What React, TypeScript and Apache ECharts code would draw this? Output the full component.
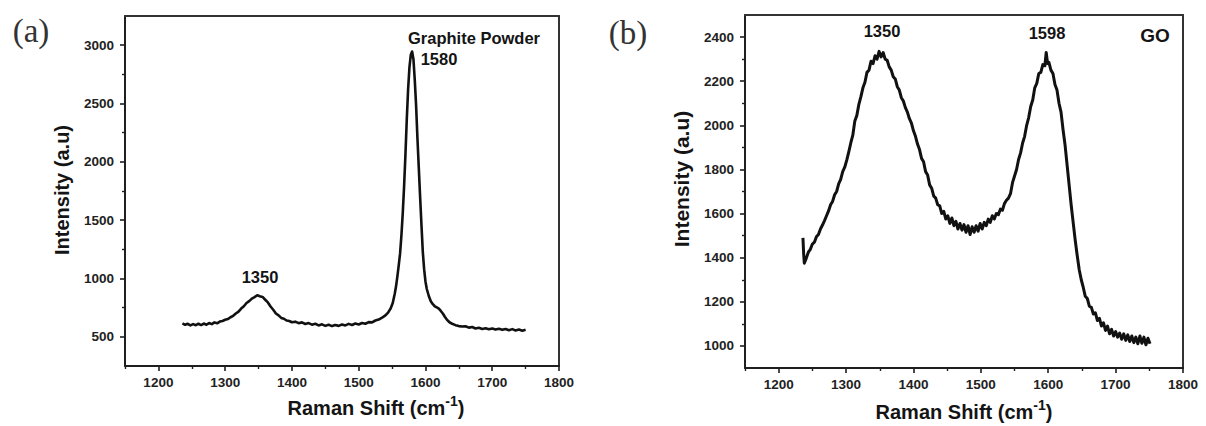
import React, { useEffect, useRef } from "react";
import * as echarts from "echarts";

// ---------- data ----------
// (a) Graphite powder Raman spectrum: [Raman shift (cm-1), intensity (a.u.)]
const graphiteSpectrum: [number, number][] = [
  [1236, 615], [1240, 603], [1244, 612], [1248, 598], [1252, 609], [1256, 600], [1260, 612], [1264, 601],
  [1268, 614], [1272, 604], [1276, 618], [1280, 609], [1284, 624], [1288, 616], [1292, 631], [1296, 636],
  [1300, 646], [1304, 652], [1308, 668], [1312, 680], [1316, 700], [1320, 716], [1324, 742], [1328, 762],
  [1332, 790], [1336, 806], [1340, 828], [1344, 840], [1348, 856], [1352, 848], [1356, 842], [1360, 818],
  [1364, 795], [1368, 760], [1372, 732], [1376, 700], [1380, 684], [1384, 662], [1388, 655], [1392, 640],
  [1396, 636], [1400, 625], [1405, 630], [1410, 617], [1415, 624], [1420, 610], [1425, 618], [1430, 604],
  [1435, 612], [1440, 598], [1445, 607], [1450, 594], [1455, 603], [1460, 592], [1465, 601], [1470, 594],
  [1475, 606], [1480, 598], [1485, 611], [1490, 602], [1495, 614], [1500, 606], [1505, 619], [1510, 612],
  [1515, 626], [1520, 624], [1525, 640], [1530, 648], [1535, 664], [1540, 684], [1544, 708], [1548, 745],
  [1551, 790], [1554, 870], [1556, 935], [1558, 1020], [1560, 1115], [1562, 1215], [1564, 1370], [1566, 1560],
  [1568, 1790], [1570, 2060], [1572, 2360], [1574, 2620], [1576, 2810], [1578, 2915], [1580, 2945], [1582, 2880],
  [1584, 2700], [1586, 2480], [1588, 2200], [1590, 1950], [1592, 1700], [1594, 1460], [1596, 1230], [1598, 1080],
  [1600, 975], [1602, 910], [1605, 850], [1608, 805], [1611, 780], [1614, 762], [1617, 752], [1620, 742],
  [1623, 722], [1626, 700], [1629, 672], [1632, 648], [1636, 625], [1640, 612], [1645, 600], [1650, 592],
  [1655, 588], [1660, 591], [1665, 579], [1670, 584], [1675, 571], [1680, 578], [1685, 568], [1690, 574],
  [1695, 565], [1700, 572], [1705, 562], [1710, 569], [1715, 560], [1720, 567], [1725, 557], [1730, 566],
  [1735, 555], [1740, 563], [1745, 553], [1750, 561],
];

// (b) GO Raman spectrum: [Raman shift (cm-1), intensity (a.u.)]
const goSpectrum: [number, number][] = [
  [1236, 1490], [1237, 1420], [1238, 1375], [1241, 1398], [1244, 1425], [1247, 1438], [1250, 1462], [1253, 1470],
  [1256, 1495], [1259, 1505], [1262, 1530], [1265, 1548], [1268, 1568], [1271, 1590], [1274, 1612], [1277, 1640],
  [1280, 1655], [1283, 1685], [1286, 1700], [1289, 1735], [1292, 1755], [1295, 1790], [1298, 1810], [1301, 1842],
  [1304, 1880], [1307, 1920], [1310, 1955], [1313, 2020], [1316, 2045], [1319, 2095], [1322, 2130], [1325, 2170],
  [1328, 2195], [1331, 2240], [1334, 2250], [1337, 2290], [1340, 2280], [1343, 2315], [1346, 2300], [1349, 2335],
  [1352, 2310], [1355, 2330], [1358, 2300], [1361, 2295], [1364, 2265], [1367, 2250], [1370, 2220], [1373, 2210],
  [1376, 2175], [1379, 2160], [1382, 2125], [1385, 2110], [1388, 2080], [1391, 2060], [1394, 2030], [1397, 2010],
  [1400, 1975], [1403, 1950], [1406, 1915], [1409, 1890], [1412, 1850], [1415, 1835], [1418, 1790], [1421, 1775],
  [1424, 1730], [1427, 1715], [1430, 1680], [1433, 1670], [1436, 1640], [1439, 1635], [1442, 1600], [1445, 1610],
  [1448, 1575], [1451, 1590], [1454, 1555], [1457, 1580], [1460, 1545], [1463, 1565], [1466, 1530], [1469, 1555],
  [1472, 1525], [1475, 1550], [1478, 1515], [1481, 1545], [1484, 1505], [1487, 1540], [1490, 1515], [1493, 1545],
  [1496, 1520], [1499, 1555], [1502, 1530], [1505, 1560], [1508, 1545], [1511, 1575], [1514, 1560], [1517, 1590],
  [1520, 1575], [1523, 1600], [1526, 1595], [1529, 1620], [1532, 1615], [1535, 1645], [1538, 1660], [1541, 1670],
  [1544, 1690], [1547, 1740], [1550, 1770], [1553, 1800], [1556, 1845], [1559, 1875], [1562, 1920], [1565, 1950],
  [1568, 2000], [1571, 2035], [1574, 2085], [1577, 2115], [1580, 2170], [1583, 2190], [1586, 2235], [1589, 2240],
  [1592, 2275], [1595, 2270], [1597, 2330], [1599, 2280], [1601, 2285], [1604, 2250], [1607, 2235], [1610, 2185],
  [1613, 2160], [1616, 2100], [1619, 2060], [1622, 1980], [1625, 1910], [1628, 1820], [1631, 1730], [1634, 1640],
  [1637, 1560], [1640, 1480], [1643, 1410], [1646, 1345], [1649, 1300], [1652, 1265], [1655, 1225], [1658, 1215],
  [1661, 1180], [1664, 1175], [1667, 1145], [1670, 1150], [1673, 1115], [1676, 1125], [1679, 1090], [1682, 1105],
  [1685, 1070], [1688, 1090], [1691, 1055], [1694, 1075], [1697, 1045], [1700, 1065], [1703, 1040], [1706, 1058],
  [1709, 1030], [1712, 1055], [1715, 1025], [1718, 1050], [1721, 1020], [1724, 1045], [1727, 1015], [1730, 1040],
  [1733, 1010], [1736, 1045], [1739, 1012], [1742, 1040], [1745, 1005], [1748, 1035], [1751, 1010],
];

// axis ranges and tick values
const xRange = [1150, 1800];
const xTicks = [1200, 1300, 1400, 1500, 1600, 1700, 1800];
const xMinorTicks = [1150, 1250, 1350, 1450, 1550, 1650, 1750];
const aYRange = [250, 3250];
const aYTicks = [500, 1000, 1500, 2000, 2500, 3000];
const aYMinorTicks = [750, 1250, 1750, 2250, 2750];
const bYRange = [900, 2500];
const bYTicks = [1000, 1200, 1400, 1600, 1800, 2000, 2200, 2400];
const bYMinorTicks = [1100, 1300, 1500, 1700, 1900, 2100, 2300];

// annotation texts
const panelLabels = ["(a)", "(b)"];
const xTitle = "{m|Raman Shift (cm}{s|-1}{m|)}";
const yTitle = "Intensity (a.u)";
const aNotes = ["Graphite Powder", "1580", "1350"];
const bNotes = ["1350", "1598", "GO"];

const SANS = '"Liberation Sans", Arial, Helvetica, sans-serif';
const SERIF = '"Liberation Serif", "Times New Roman", serif';
const AXIS = "#1f1f1f";
const INK = "#141414";

function mainAxis(gridIndex: number, range: number[], ticks: number[], position: string) {
  return {
    type: "value",
    gridIndex,
    min: range[0],
    max: range[1],
    position,
    axisLine: { show: true, onZero: false, lineStyle: { color: AXIS, width: 2 } },
    axisTick: { show: true, inside: false, length: 5, customValues: ticks, lineStyle: { color: AXIS, width: 1.6 } },
    axisLabel: {
      show: true,
      customValues: ticks,
      formatter: (v: number) => String(v),
      margin: position === "bottom" ? 9 : 11,
      fontSize: 13.5,
      fontWeight: "bold",
      fontFamily: SANS,
      color: "#222",
    },
    splitLine: { show: false },
  };
}

function minorAxis(gridIndex: number, range: number[], ticks: number[], position: string) {
  return {
    type: "value",
    gridIndex,
    min: range[0],
    max: range[1],
    position,
    offset: 0,
    axisLine: { show: false, onZero: false },
    axisTick: { show: true, inside: false, length: 3, customValues: ticks, lineStyle: { color: AXIS, width: 1.4 } },
    axisLabel: { show: false },
    splitLine: { show: false },
  };
}

// plain frame line (top / right side of each box)
function frameAxis(gridIndex: number, range: number[], position: string) {
  return {
    type: "value",
    gridIndex,
    min: range[0],
    max: range[1],
    position,
    offset: 0,
    axisLine: { show: true, onZero: false, lineStyle: { color: "#333", width: 2 } },
    axisTick: { show: false },
    axisLabel: { show: false },
    splitLine: { show: false },
  };
}

function txt(x: number, y: number, text: string, size: number, extra: any = {}) {
  return {
    type: "text",
    x,
    y,
    rotation: extra.rotation || 0,
    silent: true,
    style: {
      text,
      fontSize: size,
      fontWeight: extra.weight || "bold",
      fontFamily: extra.family || SANS,
      fill: extra.fill || INK,
      align: extra.align || "center",
      verticalAlign: "middle",
      textAlign: extra.align || "center",
      textVerticalAlign: "middle",
      rich: extra.rich,
    },
  };
}

const richTitle = (size: number) => ({
  m: { fontSize: size, fontWeight: "bold", fontFamily: SANS, fill: INK, lineHeight: 28 },
  s: { fontSize: 14, fontWeight: "bold", fontFamily: SANS, fill: INK, lineHeight: 16, verticalAlign: "top" },
});

export default function App() {
  const ref = useRef<HTMLDivElement>(null);

  useEffect(() => {
    if (!ref.current) return;
    const chart = echarts.init(ref.current, undefined, { renderer: "svg" });

    const option: any = {
      animation: false,
      backgroundColor: "#ffffff",
      grid: [
        { left: 125, top: 16, width: 434, height: 350, outerBoundsMode: "none", containLabel: false },
        { left: 745, top: 15, width: 438, height: 353, outerBoundsMode: "none", containLabel: false },
      ],
      xAxis: [
        mainAxis(0, xRange, xTicks, "bottom"),
        minorAxis(0, xRange, xMinorTicks, "bottom"),
        mainAxis(1, xRange, xTicks, "bottom"),
        minorAxis(1, xRange, xMinorTicks, "bottom"),
        frameAxis(0, xRange, "top"),
        frameAxis(1, xRange, "top"),
      ],
      yAxis: [
        mainAxis(0, aYRange, aYTicks, "left"),
        minorAxis(0, aYRange, aYMinorTicks, "left"),
        mainAxis(1, bYRange, bYTicks, "left"),
        minorAxis(1, bYRange, bYMinorTicks, "left"),
        frameAxis(0, aYRange, "right"),
        frameAxis(1, bYRange, "right"),
      ],
      series: [
        {
          name: "Graphite Powder",
          type: "line",
          xAxisIndex: 0,
          yAxisIndex: 0,
          data: graphiteSpectrum,
          showSymbol: false,
          symbol: "none",
          lineStyle: { color: "#111", width: 2.6, join: "round" },
        },
        {
          name: "GO",
          type: "line",
          xAxisIndex: 2,
          yAxisIndex: 2,
          data: goSpectrum,
          showSymbol: false,
          symbol: "none",
          lineStyle: { color: "#111", width: 3, join: "round" },
        },
      ],
      graphic: [
        txt(31, 31, panelLabels[0], 33, { weight: "normal", family: SERIF, fill: "#333" }),
        txt(628, 33, panelLabels[1], 33, { weight: "normal", family: SERIF, fill: "#333" }),
        txt(376, 408, xTitle, 20, { rich: richTitle(20) }),
        txt(964, 412, xTitle, 20, { rich: richTitle(20) }),
        txt(62, 190, yTitle, 20, { rotation: Math.PI / 2 }),
        txt(681, 179, yTitle, 21, { rotation: Math.PI / 2 }),
        txt(474, 38, aNotes[0], 16.5),
        txt(439, 59, aNotes[1], 16.5),
        txt(260, 277, aNotes[2], 16.5),
        txt(882, 31, bNotes[0], 16.5),
        txt(1047, 33, bNotes[1], 16.5),
        txt(1155, 35, bNotes[2], 19),
      ],
    };

    chart.setOption(option);
    return () => chart.dispose();
  }, []);

  return (
    <div
      ref={ref}
      style={{ position: "fixed", left: 0, top: 0, width: 1206, height: 426, background: "#fff" }}
    />
  );
}
